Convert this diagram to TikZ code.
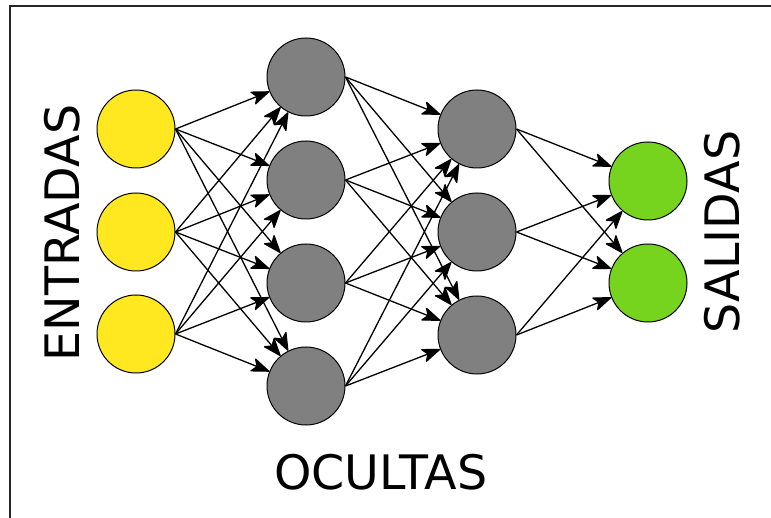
\documentclass[tikz,border=0pt]{standalone}
\usepackage{fontspec}
\setmainfont{DejaVu Sans}
\usetikzlibrary{arrows.meta}
\definecolor{inyellow}{RGB}{255,232,32}
\definecolor{hidgray}{RGB}{128,128,128}
\definecolor{outgreen}{RGB}{119,212,30}
\tikzset{
  neuron/.style={circle, draw=black, line width=1pt, minimum size=78pt, inner sep=0pt},
  inneuron/.style={neuron, fill=inyellow},
  hidneuron/.style={neuron, fill=hidgray},
  outneuron/.style={neuron, fill=outgreen},
  conn/.style={line width=1.3pt, -{Stealth[length=20pt,width=15pt,inset=5pt,round]}},
  biglabel/.style={font=\fontsize{47.5}{56}\selectfont, inner sep=0pt}
}
\begin{document}
\begin{tikzpicture}[x=1pt,y=-1pt]
\useasboundingbox (0,0) rectangle (771,518);
\fill[white] (0,0) rectangle (771,518);
\draw[line width=2pt, color=black!85] (9.5,518) -- (9.5,6) -- (771,6);
% input layer
\node[inneuron] (i1) at (136,129) {};
\node[inneuron] (i2) at (136,232) {};
\node[inneuron] (i3) at (136,334) {};
% hidden layer 1
\node[hidneuron] (h1) at (306,77) {};
\node[hidneuron] (h2) at (306,180) {};
\node[hidneuron] (h3) at (306,283) {};
\node[hidneuron] (h4) at (306,386) {};
% hidden layer 2
\node[hidneuron] (g1) at (477,129) {};
\node[hidneuron] (g2) at (477,232) {};
\node[hidneuron] (g3) at (477,335) {};
% output layer
\node[outneuron] (o1) at (648,181) {};
\node[outneuron] (o2) at (648,283) {};
% connections
\foreach \a in {i1,i2,i3}{
  \foreach \b in {h1,h2,h3,h4}{
    \draw[conn] (\a.east) -- (\b);
  }
}
\foreach \a in {h1,h2,h3,h4}{
  \foreach \b in {g1,g2,g3}{
    \draw[conn] (\a.east) -- (\b);
  }
}
\foreach \a in {g1,g2,g3}{
  \foreach \b in {o1,o2}{
    \draw[conn] (\a.east) -- (\b);
  }
}
% labels
\node[biglabel, rotate=90] (lin) at (62,233) {ENTRADAS};
\node[biglabel, rotate=90] (lout) at (722,232) {SALIDAS};
\node[biglabel] (lhid) at (381,472) {OCULTAS};
\end{tikzpicture}
\end{document}
